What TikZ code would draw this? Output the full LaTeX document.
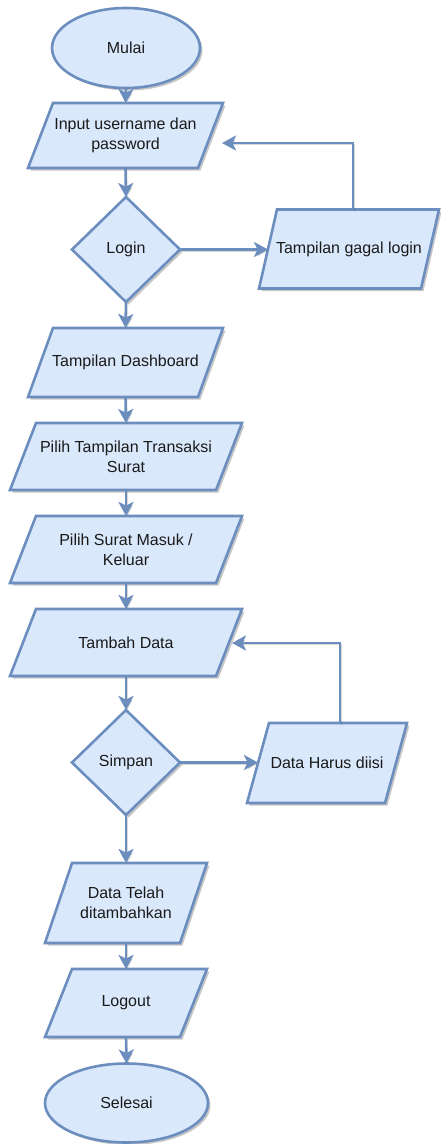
\documentclass[tikz,border=0pt]{standalone}
\usepackage{fontspec}
\setmainfont{Liberation Sans}
\usetikzlibrary{shapes.geometric,arrows.meta,shadows}
\definecolor{boxfill}{HTML}{DAE8FC}
\definecolor{boxline}{HTML}{6C8EBF}
\definecolor{txt}{HTML}{1A1A1A}
\tikzset{
  shapeline/.style={draw=boxline,fill=boxfill,line width=2.6pt,line join=miter,
    drop shadow={shadow xshift=2.5pt,shadow yshift=-2.5pt,fill=black,opacity=0.22}},
  labeltext/.style={inner sep=0pt,outer sep=0pt,text=txt,align=center,
    font=\fontsize{16}{20}\selectfont},
  base/.style={shapeline,labeltext},
  term/.style={base,ellipse},
  decide/.style={base,diamond},
  flow/.style={draw=boxline,line width=2.6pt,-{Stealth[length=14pt,width=15pt,inset=3.5pt]},
    preaction={draw=black,opacity=0.15,transform canvas={shift={(1.5pt,-1.5pt)}}}}
}
% name, cx, cy, width, height, slant, text
\newcommand\drawio[7]{%
  \path[shapeline] ({#2-#4/2+#6},{#3-#5/2}) -- ({#2+#4/2},{#3-#5/2})
     -- ({#2+#4/2-#6},{#3+#5/2}) -- ({#2-#4/2},{#3+#5/2}) -- cycle;
  \node[labeltext,minimum width=#4pt,minimum height=#5pt] (#1) at (#2,#3) {#7};
  \coordinate (#1-l) at ({#2-#4/2+#6/2},#3);
}
\begin{document}
\begin{tikzpicture}[x=1pt,y=-1pt]
\useasboundingbox (0,0) rectangle (441,1144);

\node[term,minimum width=148pt,minimum height=80pt] (start) at (126,48) {Mulai};
\drawio{in}{125.5}{135.5}{195}{65}{25}{Input username dan\\password}
\node[decide,minimum width=108pt,minimum height=105pt] (login) at (126,249.5) {Login};
\drawio{gagal}{349}{249}{180}{79}{18}{Tampilan gagal login}
\drawio{dash}{125.5}{362.5}{195}{69}{25}{Tampilan Dashboard}
\drawio{pilih}{126}{456.5}{232}{67}{26}{Pilih Tampilan Transaksi\\Surat}
\drawio{masuk}{126}{549.5}{232}{67}{26}{Pilih Surat Masuk /\\Keluar}
\drawio{tambah}{126}{642.5}{232}{67}{26}{Tambah Data}
\node[decide,minimum width=108pt,minimum height=105pt] (simpan) at (126,762.5) {Simpan};
\drawio{harus}{327}{763}{160}{80}{22}{Data Harus diisi}
\drawio{telah}{126}{903}{162}{80}{27}{Data Telah\\ditambahkan}
\drawio{logout}{126}{1003}{162}{68}{27}{Logout}
\node[term,minimum width=163pt,minimum height=79pt] (stop) at (126.5,1103) {Selesai};

\coordinate (inR) at (222,143);
\coordinate (tambahR) at (232,643);

\draw[flow] (start.south) -- (in.north);
\draw[flow] (in.south) -- (login.north);
\draw[flow] (login.east) -- (login.east -| gagal-l);
\draw[flow] ([xshift=4pt]gagal.north) |- (inR);
\draw[flow] (login.south) -- (dash.north);
\draw[flow] (dash.south) -- (pilih.north);
\draw[flow] (pilih.south) -- (masuk.north);
\draw[flow] (masuk.south) -- (tambah.north);
\draw[flow] (tambah.south) -- (simpan.north);
\draw[flow] (simpan.east) -- (simpan.east -| harus-l);
\draw[flow] ([xshift=13pt]harus.north) |- (tambahR);
\draw[flow] (simpan.south) -- (telah.north);
\draw[flow] (telah.south) -- (logout.north);
\draw[flow] (logout.south) -- (stop.north);
\end{tikzpicture}
\end{document}
